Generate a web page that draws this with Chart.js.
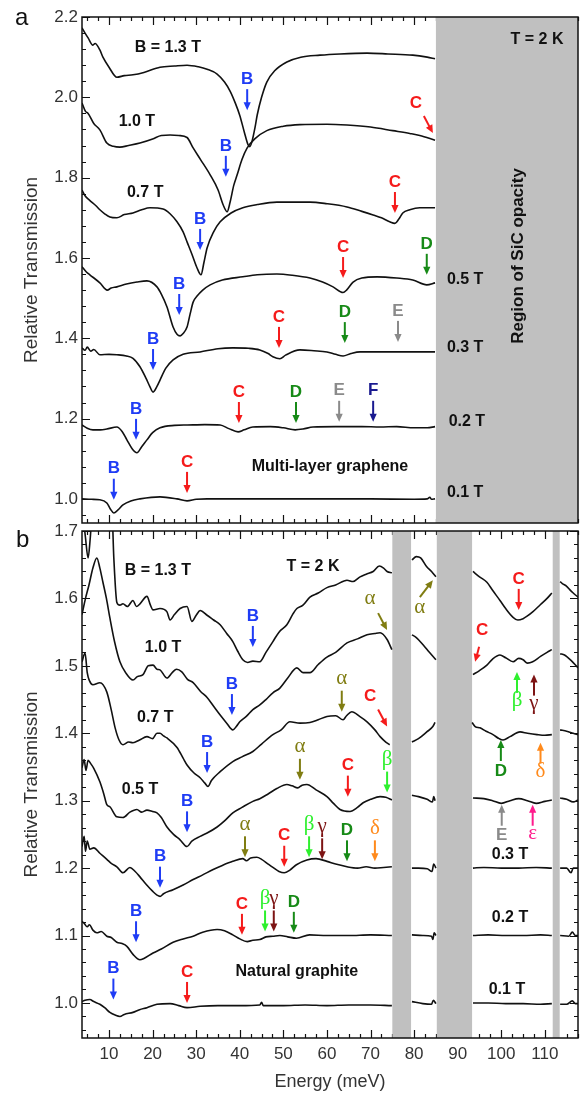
<!DOCTYPE html>
<html>
<head>
<meta charset="utf-8">
<script src="https://cdn.jsdelivr.net/npm/chart.js@4.4.1/dist/chart.umd.min.js"></script>
<style>
  html, body { margin: 0; padding: 0; background: #fff; }
  body { width: 585px; height: 1095px; position: relative; overflow: hidden; font-family: "Liberation Sans", Arial, sans-serif; }
  canvas { position: absolute; left: 0; }
  #ca { top: 0; }
  #cb { top: 500px; }
  .panel { position: absolute; font-size: 24px; line-height: 24px; color: #111; }
</style>
</head>
<body>
<canvas id="ca" width="585" height="538"></canvas>
<canvas id="cb" width="585" height="595"></canvas>
<div class="panel" style="left:15px;top:5px">a</div>
<div class="panel" style="left:16px;top:527px">b</div>
<script>
// Energy range and ticks (meV)
const xMin = 3.8, xMax = 117.6;
const xTicks = [10, 20, 30, 40, 50, 60, 70, 80, 90, 100, 110];
const yTicksA = [1.0, 1.2, 1.4, 1.6, 1.8, 2.0, 2.2];
const yTicksB = [1.0, 1.1, 1.2, 1.3, 1.4, 1.5, 1.6, 1.7];

// Regions where SiC is opaque
const opaqueA = [[85, 117.6]];
const opaqueB = [[75, 79.3], [85.2, 93.3], [111.8, 113.4]];

// (a) multi-layer graphene, [energy, transmission]
const a13 = [[3.8,2.173],[4.5,2.16],[5.2,2.148],[6.3,2.13],[6.8,2.134],[7.9,2.118],[8.6,2.1],[10,2.075],[11.8,2.05],[13.5,2.054],[15.5,2.056],[18,2.062],[21.7,2.075],[25,2.078],[27.9,2.08],[30.5,2.076],[32.5,2.07],[34.8,2.058],[36.5,2.038],[37.8,2.015],[39,1.985],[40,1.955],[41,1.915],[41.9,1.882],[42.3,1.877],[42.8,1.89],[43.5,1.925],[44,1.956],[45,2.0],[46.2,2.038],[48,2.066],[50.8,2.088],[54,2.1],[58.4,2.105],[63,2.108],[69.2,2.11],[74,2.108],[79.7,2.105],[83,2.1],[84.8,2.096]];
const a10 = [[3.8,1.986],[4.6,1.965],[5.2,1.96],[6.5,1.935],[7.9,1.919],[9.5,1.886],[11,1.878],[12.5,1.876],[14.5,1.88],[17.1,1.886],[20,1.896],[22,1.905],[24,1.906],[26,1.905],[27.9,1.9],[29.3,1.874],[31,1.845],[33.2,1.807],[35,1.77],[36.2,1.732],[37.1,1.715],[37.8,1.74],[38.6,1.78],[39.4,1.807],[40.5,1.845],[41.7,1.874],[43.5,1.897],[46.2,1.917],[50,1.928],[53.8,1.932],[60,1.933],[64.6,1.931],[70,1.926],[75.1,1.917],[79,1.91],[81.3,1.905],[84.8,1.893]];
const a07 = [[3.8,1.769],[4.5,1.755],[5.5,1.744],[7,1.73],[7.9,1.72],[9,1.71],[10.2,1.702],[11.8,1.7],[13.5,1.708],[15.5,1.712],[17.5,1.72],[19.4,1.725],[22.4,1.722],[24,1.71],[25.6,1.69],[27,1.665],[27.9,1.64],[29,1.61],[30.2,1.575],[31.1,1.558],[31.8,1.59],[32.5,1.625],[34,1.665],[35.5,1.69],[38,1.712],[40.7,1.725],[44,1.733],[48.5,1.739],[56.1,1.739],[60,1.735],[64.6,1.727],[68,1.716],[70.6,1.707],[72.5,1.7],[74.4,1.69],[75.6,1.686],[76.5,1.697],[77.4,1.712],[79,1.72],[81.3,1.725],[84.8,1.725]];
const a05 = [[3.8,1.578],[4.8,1.565],[5.6,1.558],[7.9,1.538],[9.6,1.52],[10.5,1.525],[11.8,1.528],[14,1.535],[16.4,1.54],[18.7,1.543],[21,1.528],[22,1.51],[23.3,1.478],[24.7,1.428],[25.6,1.41],[26.3,1.406],[27,1.412],[27.9,1.428],[28.6,1.46],[29.3,1.49],[30.2,1.505],[31.5,1.52],[33.2,1.533],[36,1.545],[40.7,1.553],[44,1.558],[48.5,1.56],[52,1.557],[56.1,1.55],[59,1.54],[61.4,1.528],[63.7,1.514],[64.5,1.52],[66,1.54],[68,1.55],[71.5,1.553],[76,1.55],[79.7,1.545],[82.9,1.533],[84.8,1.538]];
const a03 = [[3.8,1.376],[4.5,1.37],[5,1.378],[5.8,1.368],[6.5,1.372],[7.9,1.359],[10,1.36],[11.8,1.359],[14,1.356],[15.5,1.35],[17.1,1.329],[18.5,1.3],[19.4,1.279],[20.1,1.266],[21,1.28],[21.7,1.296],[23,1.325],[24.7,1.346],[27,1.36],[30.9,1.366],[35,1.374],[38.4,1.376],[42,1.375],[44.6,1.371],[46.5,1.362],[47.6,1.354],[49.2,1.349],[50.5,1.358],[53.8,1.371],[57,1.369],[60,1.366],[62,1.36],[63.7,1.356],[65.5,1.362],[67.6,1.366],[72,1.366],[75.1,1.366],[80,1.366],[84.8,1.366]];
const a02 = [[3.8,1.184],[5,1.176],[6.3,1.172],[8,1.172],[9.5,1.174],[11.8,1.179],[13,1.168],[14.1,1.147],[15.3,1.125],[16.4,1.115],[17.5,1.13],[18.7,1.147],[20,1.165],[21.7,1.177],[25,1.183],[28,1.184],[32,1.185],[35.5,1.184],[37.5,1.175],[39.6,1.167],[41,1.172],[43,1.179],[47,1.18],[50,1.177],[52.7,1.172],[54.5,1.174],[56.8,1.179],[62,1.18],[68,1.18],[72.2,1.179],[76,1.18],[80,1.177],[83,1.177],[84.8,1.18]];
const a01 = [[3.8,1.0],[6,0.999],[7.9,0.998],[9.5,0.99],[10.3,0.975],[11.1,0.965],[12,0.972],[13.2,0.985],[15,0.995],[17.1,1.0],[21.7,1.005],[25.6,1.0],[27.9,0.995],[30,0.999],[32.5,1.0],[40,1.0],[50,1.0],[60,1.0],[70,1.0],[80,0.999],[83,1.0],[83.6,1.004],[84,0.999],[84.8,1.0]];

// (b) natural graphite, null marks the opaque bands
const b13 = [[3.8,1.74],[4.6,1.69],[5.2,1.66],[5.7,1.69],[6.3,1.74],[10.6,1.74],[11.1,1.66],[11.8,1.594],[12.5,1.59],[13.2,1.592],[14.2,1.588],[15.5,1.597],[16.3,1.588],[17.1,1.592],[18.7,1.603],[19.5,1.59],[20.1,1.583],[21.7,1.585],[23.3,1.58],[24,1.568],[25,1.576],[26.3,1.585],[27.9,1.588],[29,1.566],[30,1.575],[30.9,1.582],[32.5,1.575],[34,1.568],[35.5,1.561],[37,1.548],[38.4,1.536],[39.5,1.522],[40.7,1.509],[41.8,1.505],[43,1.507],[44.6,1.506],[46,1.52],[47.6,1.536],[49,1.55],[50.8,1.561],[52.2,1.577],[53.1,1.585],[54.5,1.59],[56.1,1.602],[58,1.608],[60,1.616],[62,1.62],[64.6,1.627],[66,1.625],[67.6,1.632],[69,1.636],[70.6,1.64],[72,1.648],[73,1.645],[73.8,1.64],[74.9,1.638],[77,null],[79.5,1.657],[80.5,1.662],[81.5,1.66],[82.9,1.647],[84,1.64],[85,1.632],[89,null],[93.5,1.64],[95,1.632],[96.7,1.624],[98,1.612],[99.7,1.597],[101,1.585],[102.7,1.572],[103.8,1.568],[105,1.57],[106,1.574],[107.2,1.58],[109,1.591],[110.5,1.6],[111.6,1.608],[112.5,null],[113.5,1.625],[114,1.622],[115,1.618],[115.7,1.613],[116.5,1.608],[117.6,1.602]];
const b10 = [[3.8,1.576],[4.6,1.6],[5.4,1.62],[6.3,1.645],[7.2,1.66],[7.9,1.645],[8.6,1.624],[9.4,1.6],[10.2,1.571],[11.3,1.535],[12.5,1.506],[13.8,1.49],[15.5,1.479],[16.5,1.484],[17.8,1.487],[19,1.5],[20.1,1.501],[21,1.495],[21.7,1.494],[23.3,1.482],[24.5,1.49],[25.5,1.495],[26.7,1.491],[28,1.48],[29.3,1.475],[31,1.462],[32.5,1.453],[34,1.44],[35.5,1.427],[37,1.415],[38.4,1.405],[39.2,1.41],[40,1.417],[41.5,1.425],[43,1.435],[44.6,1.442],[46,1.45],[47.6,1.46],[49.2,1.467],[51,1.482],[53.1,1.497],[54.5,1.49],[56.1,1.49],[58,1.502],[60,1.513],[62,1.52],[64.6,1.534],[67,1.54],[69.2,1.546],[71,1.548],[72.2,1.549],[73.8,1.539],[74.9,1.524],[77,null],[79.5,1.546],[80.5,1.542],[82.1,1.531],[83.5,1.52],[85,1.509],[89,null],[93.5,1.487],[95,1.493],[96.7,1.501],[98,1.51],[99.7,1.516],[101,1.512],[102.7,1.506],[104,1.511],[105,1.509],[106,1.504],[107.2,1.506],[109,1.514],[110.5,1.52],[111.6,1.524],[112.5,null],[113.5,1.518],[114.5,1.516],[116,1.508],[117.6,1.497]];
const b07 = [[3.8,1.506],[4.5,1.519],[5.0,1.49],[5.5,1.478],[6.3,1.472],[7.9,1.475],[9.5,1.461],[10.5,1.435],[11.4,1.408],[12.3,1.39],[13.2,1.383],[14.5,1.387],[15.5,1.386],[17,1.39],[18.7,1.395],[20,1.392],[21,1.4],[21.7,1.4],[22.5,1.396],[23.3,1.393],[25.6,1.379],[27,1.363],[27.9,1.353],[29.5,1.341],[30.9,1.334],[32,1.326],[32.7,1.321],[33.5,1.33],[35.5,1.343],[38.4,1.358],[40.5,1.365],[43,1.373],[45,1.384],[47.6,1.398],[49.5,1.405],[51.5,1.417],[53.8,1.415],[56.1,1.416],[58,1.42],[60,1.425],[62,1.426],[63.7,1.42],[64.5,1.426],[65.7,1.432],[67.5,1.425],[69.2,1.417],[71,1.405],[72.2,1.395],[73.5,1.387],[74.4,1.383],[77,null],[79.5,1.387],[81,1.392],[82.9,1.402],[84.3,1.41],[84.8,1.416],[89,null],[93.3,1.416],[94,1.41],[95.1,1.408],[96.5,1.403],[98.1,1.398],[99.5,1.392],[100.4,1.39],[102,1.395],[104.3,1.402],[106,1.4],[108.2,1.398],[110,1.397],[111.6,1.398],[112.5,null],[113.5,1.405],[115,1.403],[116.5,1.4],[117.6,1.398]];
const b05 = [[3.8,1.349],[4.3,1.361],[4.7,1.345],[5.2,1.36],[5.8,1.355],[6.5,1.348],[7.9,1.328],[8.8,1.31],[9.5,1.294],[10.2,1.291],[11.8,1.276],[13.2,1.275],[14.8,1.283],[16.4,1.287],[17.5,1.283],[18.7,1.286],[20,1.284],[21,1.282],[22,1.275],[23.3,1.261],[24.8,1.25],[26.3,1.242],[27.9,1.232],[29,1.24],[30.9,1.247],[32.5,1.252],[34.8,1.261],[36.5,1.27],[38.4,1.282],[40.5,1.29],[43,1.299],[44.6,1.303],[46.5,1.31],[48.5,1.318],[50.8,1.324],[52,1.322],[53.3,1.319],[54.3,1.323],[55.4,1.324],[57.5,1.316],[60,1.306],[61.5,1.296],[63,1.287],[65.3,1.284],[67,1.29],[68.3,1.297],[70,1.302],[72.2,1.306],[73.5,1.305],[74.9,1.301],[77,null],[79.5,1.308],[81,1.306],[83,1.302],[84.2,1.298],[84.5,1.306],[84.8,1.3],[89,null],[93.5,1.304],[96,1.303],[98,1.3],[100,1.296],[102,1.3],[104,1.303],[106,1.3],[108,1.296],[110,1.299],[111.6,1.301],[112.5,null],[113.5,1.304],[115,1.302],[116.5,1.298],[117.6,1.301]];
const b03 = [[3.8,1.232],[4.3,1.247],[4.6,1.225],[5.0,1.24],[5.6,1.228],[6.5,1.23],[7.9,1.222],[9.5,1.213],[10.5,1.207],[11.8,1.202],[13.2,1.193],[14.8,1.201],[16,1.195],[17.1,1.187],[18.5,1.176],[20.1,1.165],[21,1.16],[21.7,1.158],[22.5,1.162],[24.7,1.168],[27,1.175],[29.3,1.183],[31.5,1.19],[33.9,1.198],[36,1.204],[38.4,1.21],[40.7,1.214],[41.5,1.211],[42.5,1.215],[43.9,1.216],[45,1.213],[46.5,1.206],[47.6,1.201],[49,1.195],[50.2,1.193],[51.5,1.197],[53,1.205],[55.4,1.212],[57.5,1.214],[60,1.21],[62,1.206],[64.6,1.202],[67,1.2],[69,1.202],[71,1.2],[73,1.201],[74.9,1.202],[77,null],[79.5,1.2],[81,1.2],[83,1.199],[84.1,1.195],[84.5,1.206],[85,1.2],[89,null],[93.5,1.2],[96,1.201],[100,1.2],[104,1.2],[108,1.201],[111.6,1.2],[112.5,null],[113.5,1.2],[115,1.2],[116,1.193],[116.5,1.2],[117.6,1.2]];
const b02 = [[3.8,1.121],[4.3,1.118],[5,1.113],[5.5,1.116],[6.3,1.108],[7.2,1.104],[8.2,1.106],[9.5,1.099],[10.5,1.097],[11.8,1.09],[13,1.088],[14.1,1.084],[15.5,1.072],[17.1,1.064],[18,1.066],[20.1,1.074],[22,1.08],[24.7,1.09],[27,1.095],[29.3,1.099],[31.5,1.105],[34.8,1.109],[36.5,1.107],[38.4,1.101],[40,1.095],[41.7,1.091],[43,1.093],[44.6,1.094],[46,1.098],[47.6,1.099],[49.2,1.1],[51,1.098],[53,1.096],[56,1.101],[60,1.1],[65,1.1],[70,1.101],[74.9,1.1],[77,null],[79.5,1.101],[82,1.1],[84,1.099],[84.3,1.094],[84.6,1.104],[85,1.1],[89,null],[93.5,1.1],[97,1.101],[101,1.1],[105,1.1],[109,1.101],[111.6,1.1],[112.5,null],[113.5,1.1],[115.5,1.099],[116.3,1.105],[117,1.1],[117.6,1.1]];
const b01 = [[3.8,1.002],[4.5,1.004],[5.6,1.005],[6.5,1.002],[7.9,0.998],[9,0.993],[10.2,0.986],[11.4,0.982],[12.5,0.98],[13.5,0.983],[15.5,0.986],[17,0.99],[18.7,0.993],[21,0.998],[24,0.999],[26,0.996],[27.9,0.993],[30.9,0.995],[35,0.996],[40,0.996],[44.6,0.997],[45,1.001],[45.4,0.996],[50,0.996],[55,0.997],[60,0.996],[65,0.997],[70,0.997],[74.9,0.996],[77,null],[79.5,1.002],[82,0.999],[84,0.998],[84.4,1.004],[85,0.999],[89,null],[93.5,1.0],[97,1.0],[101,0.999],[105,0.999],[109,0.998],[111.6,0.999],[112.5,null],[113.5,0.998],[115,0.998],[116.3,1.003],[117,0.999],[117.6,0.999]];

// Transition markers: [label, colour key, energy, transmission at arrow tip, arrow kind]
const arrowsA = [
  ['B','B',41.7,1.968,'down'], ['C','C',84.3,1.911,'dr'],
  ['B','B',36.8,1.802,'down'], ['C','C',75.6,1.712,'down'],
  ['B','B',30.9,1.62,'down'],
  ['B','B',26.1,1.458,'down'], ['C','C',63.7,1.55,'down'], ['D','D',82.9,1.558,'down'],
  ['B','B',20.1,1.321,'down'], ['C','C',49.0,1.376,'down'], ['D','D',64.1,1.388,'down'], ['E','E',76.3,1.391,'down'],
  ['B','B',16.2,1.147,'down'], ['C','C',39.8,1.189,'down'], ['D','D',52.9,1.189,'down'], ['E','E',62.8,1.192,'down'], ['F','F',70.6,1.192,'down'],
  ['B','B',11.1,0.998,'down'], ['C','C',27.9,1.015,'down']
];
const arrowsB = [
  ['B','B',43.0,1.528,'down'], ['α','al',73.8,1.553,'dr'], ['α','al',84.3,1.627,'ur'], ['C','C',104.0,1.583,'down'],
  ['B','B',38.2,1.427,'down'], ['C','C',94.0,1.506,'dl'], ['β','be',103.6,1.491,'up'], ['γ','ga',107.5,1.487,'up'],
  ['B','B',32.5,1.341,'down'], ['α','al',63.4,1.432,'down'], ['C','C',73.8,1.41,'dr'], ['D','D',99.9,1.39,'up'], ['δ','de',109.0,1.386,'up'],
  ['B','B',27.9,1.253,'down'], ['α','al',53.8,1.331,'down'], ['C','C',64.8,1.306,'down'], ['β','be',73.8,1.312,'down'], ['E','E',100.1,1.294,'up'], ['ε','ep',107.2,1.294,'up'],
  ['B','B',21.7,1.171,'down'], ['α','al',41.2,1.216,'down'], ['C','C',50.2,1.202,'down'], ['β','be',55.9,1.216,'down'], ['γ','ga',58.9,1.213,'down'], ['D','D',64.6,1.21,'down'], ['δ','de',71.0,1.21,'down'],
  ['B','B',16.2,1.09,'down'], ['C','C',40.5,1.101,'down'], ['β','be',45.8,1.106,'down'], ['γ','ga',47.8,1.106,'down'], ['D','D',52.4,1.104,'down'],
  ['B','B',11.0,1.005,'down'], ['C','C',27.9,1.0,'down']
];

// Curve labels and notes: [text, energy, transmission]
const textsA = [
  ['B = 1.3 T', 23.5, 2.125], ['1.0 T', 16.4, 1.939], ['0.7 T', 18.3, 1.762],
  ['0.5 T', 91.7, 1.545], ['0.3 T', 91.7, 1.376], ['0.2 T', 92.1, 1.192], ['0.1 T', 91.7, 1.015],
  ['Multi-layer graphene', 60.7, 1.08], ['T = 2 K', 108.2, 2.143]
];
const sideTextA = ['Region of SiC opacity', 104, 1.605];
const textsB = [
  ['B = 1.3 T', 21.2, 1.642], ['1.0 T', 22.4, 1.527], ['0.7 T', 20.6, 1.423], ['0.5 T', 17.1, 1.316],
  ['T = 2 K', 56.8, 1.647], ['0.3 T', 102, 1.22], ['0.2 T', 102, 1.127], ['0.1 T', 101.3, 1.02],
  ['Natural graphite', 53.1, 1.047]
];

const colors = { B: '#1f3cf5', C: '#f51b1b', D: '#178a17', E: '#8a8a8a', F: '#1a1a90',
  al: '#807d12', be: '#2ef02e', ga: '#7d1414', de: '#ff8a1c', ep: '#ff1a8c' };

// tail and label offsets (px) from the arrow tip
const kinds = {
  down: { t: [0, -21], l: [0, -31] },
  up: { t: [0, 21], l: [0, 31] },
  dr: { t: [-9, -17], l: [-17, -30] },
  dl: { t: [4, -15], l: [7, -31] },
  ur: { t: [-13, 17], l: [-13, 29] }
};

const sans = '"Liberation Sans", Arial, sans-serif';

function drawArrow(ctx, x0, y0, x1, y1, color) {
  const dx = x1 - x0, dy = y1 - y0, len = Math.hypot(dx, dy);
  const ux = dx / len, uy = dy / len, hl = 8, hw = 3.6;
  ctx.strokeStyle = color;
  ctx.fillStyle = color;
  ctx.lineWidth = 2;
  ctx.beginPath();
  ctx.moveTo(x0, y0);
  ctx.lineTo(x1 - ux * hl * 0.7, y1 - uy * hl * 0.7);
  ctx.stroke();
  ctx.beginPath();
  ctx.moveTo(x1, y1);
  ctx.lineTo(x1 - ux * hl - uy * hw, y1 - uy * hl + ux * hw);
  ctx.lineTo(x1 - ux * hl + uy * hw, y1 - uy * hl - ux * hw);
  ctx.closePath();
  ctx.fill();
}

// inward ticks, opaque bands, frame and annotations
const decor = {
  id: 'decor',
  beforeDatasetsDraw(chart, args, o) {
    const { ctx, chartArea: a, scales: { x, y } } = chart;
    ctx.save();
    ctx.strokeStyle = '#111';
    ctx.lineWidth = 1.2;
    ctx.beginPath();
    for (let i = Math.ceil(x.min / 2.5); i * 2.5 <= x.max; i++) {
      const px = Math.round(x.getPixelForValue(i * 2.5)) + 0.5;
      const len = i % 4 === 0 ? 8 : 4;
      ctx.moveTo(px, a.top); ctx.lineTo(px, a.top + len);
      ctx.moveTo(px, a.bottom); ctx.lineTo(px, a.bottom - len);
    }
    for (let i = Math.ceil(y.min / o.yMinor - 1e-6); i * o.yMinor <= y.max + 1e-9; i++) {
      const py = Math.round(y.getPixelForValue(i * o.yMinor)) + 0.5;
      const len = i % 5 === 0 ? 8 : 4;
      ctx.moveTo(a.left, py); ctx.lineTo(a.left + len, py);
      if (o.rightTicks) { ctx.moveTo(a.right, py); ctx.lineTo(a.right - len, py); }
    }
    ctx.stroke();
    ctx.fillStyle = '#c0c0c0';
    o.bands.forEach(([e0, e1]) => {
      const x0 = Math.max(x.getPixelForValue(e0), a.left);
      const x1 = Math.min(x.getPixelForValue(e1), a.right);
      ctx.fillRect(x0, a.top, x1 - x0, a.bottom - a.top);
    });
    ctx.restore();
  },
  afterDatasetsDraw(chart, args, o) {
    const { ctx, chartArea: a, scales: { x, y } } = chart;
    ctx.save();
    ctx.strokeStyle = '#111';
    ctx.lineWidth = 1.5;
    ctx.strokeRect(a.left, a.top, a.right - a.left, a.bottom - a.top);

    ctx.textAlign = 'center';
    ctx.textBaseline = 'middle';
    o.arrows.forEach(([label, key, e, v, kind]) => {
      const tx = x.getPixelForValue(e), ty = y.getPixelForValue(v), k = kinds[kind];
      drawArrow(ctx, tx + k.t[0], ty + k.t[1], tx, ty, colors[key]);
      const greek = !/^[A-Z]$/.test(label);
      ctx.font = greek ? '21px "Liberation Serif", "DejaVu Serif", serif' : 'bold 17px ' + sans;
      ctx.fillText(label, tx + k.l[0], ty + k.l[1] + (greek ? -2 : 0));
    });

    ctx.fillStyle = '#111';
    ctx.font = 'bold 16px ' + sans;
    o.texts.forEach(([t, e, v]) => ctx.fillText(t, x.getPixelForValue(e), y.getPixelForValue(v)));
    if (o.side) {
      const [t, e, v] = o.side;
      ctx.translate(x.getPixelForValue(e), y.getPixelForValue(v));
      ctx.rotate(-Math.PI / 2);
      ctx.font = 'bold 17px ' + sans;
      ctx.fillText(t, 0, 0);
    }
    ctx.restore();
  }
};

const line = pts => ({
  data: pts.map(([x, y]) => ({ x, y })),
  borderColor: '#111',
  borderWidth: 1.6,
  pointRadius: 0,
  cubicInterpolationMode: 'monotone',
  spanGaps: false,
  fill: false
});

const yAxis = (min, max, ticks) => ({
  type: 'linear',
  min, max,
  afterBuildTicks: s => { s.ticks = ticks.map(v => ({ value: v })); },
  afterFit: s => { s.width = 82; },
  grid: { display: false, drawTicks: false },
  border: { display: false },
  ticks: { padding: 4, color: '#333', font: { size: 17, family: sans }, callback: v => v.toFixed(1) },
  title: { display: true, text: 'Relative Transmission', color: '#333', font: { size: 19, family: sans }, padding: { top: 20, bottom: 0 } }
});

const common = {
  responsive: false,
  animation: false,
  events: [],
  devicePixelRatio: 1
};

new Chart(document.getElementById('ca'), {
  type: 'line',
  data: { datasets: [a13, a10, a07, a05, a03, a02, a01].map(line) },
  options: {
    ...common,
    layout: { padding: { top: 17, right: 7, bottom: 15, left: 0 } },
    plugins: {
      legend: { display: false },
      tooltip: { enabled: false },
      decor: { yMinor: 0.04, rightTicks: false, bands: opaqueA, arrows: arrowsA, texts: textsA, side: sideTextA }
    },
    scales: {
      x: { type: 'linear', min: xMin, max: xMax, display: false },
      y: yAxis(0.94, 2.2, yTicksA)
    }
  },
  plugins: [decor]
});

new Chart(document.getElementById('cb'), {
  type: 'line',
  data: { datasets: [b13, b10, b07, b05, b03, b02, b01].map(line) },
  options: {
    ...common,
    layout: { padding: { top: 31, right: 7, bottom: 0, left: 0 } },
    plugins: {
      legend: { display: false },
      tooltip: { enabled: false },
      decor: { yMinor: 0.02, rightTicks: true, bands: opaqueB, arrows: arrowsB, texts: textsB, side: null }
    },
    scales: {
      x: {
        type: 'linear',
        min: xMin, max: xMax,
        afterBuildTicks: s => { s.ticks = xTicks.map(v => ({ value: v })); },
        afterFit: s => { s.height = 57; },
        grid: { display: false, drawTicks: false },
        border: { display: false },
        ticks: { padding: 6, color: '#333', font: { size: 17, family: sans }, maxRotation: 0 },
        title: { display: true, text: 'Energy (meV)', color: '#333', font: { size: 18, family: sans }, padding: { top: 0, bottom: 2 } }
      },
      y: yAxis(0.948, 1.7, yTicksB)
    }
  },
  plugins: [decor]
});
</script>
</body>
</html>
